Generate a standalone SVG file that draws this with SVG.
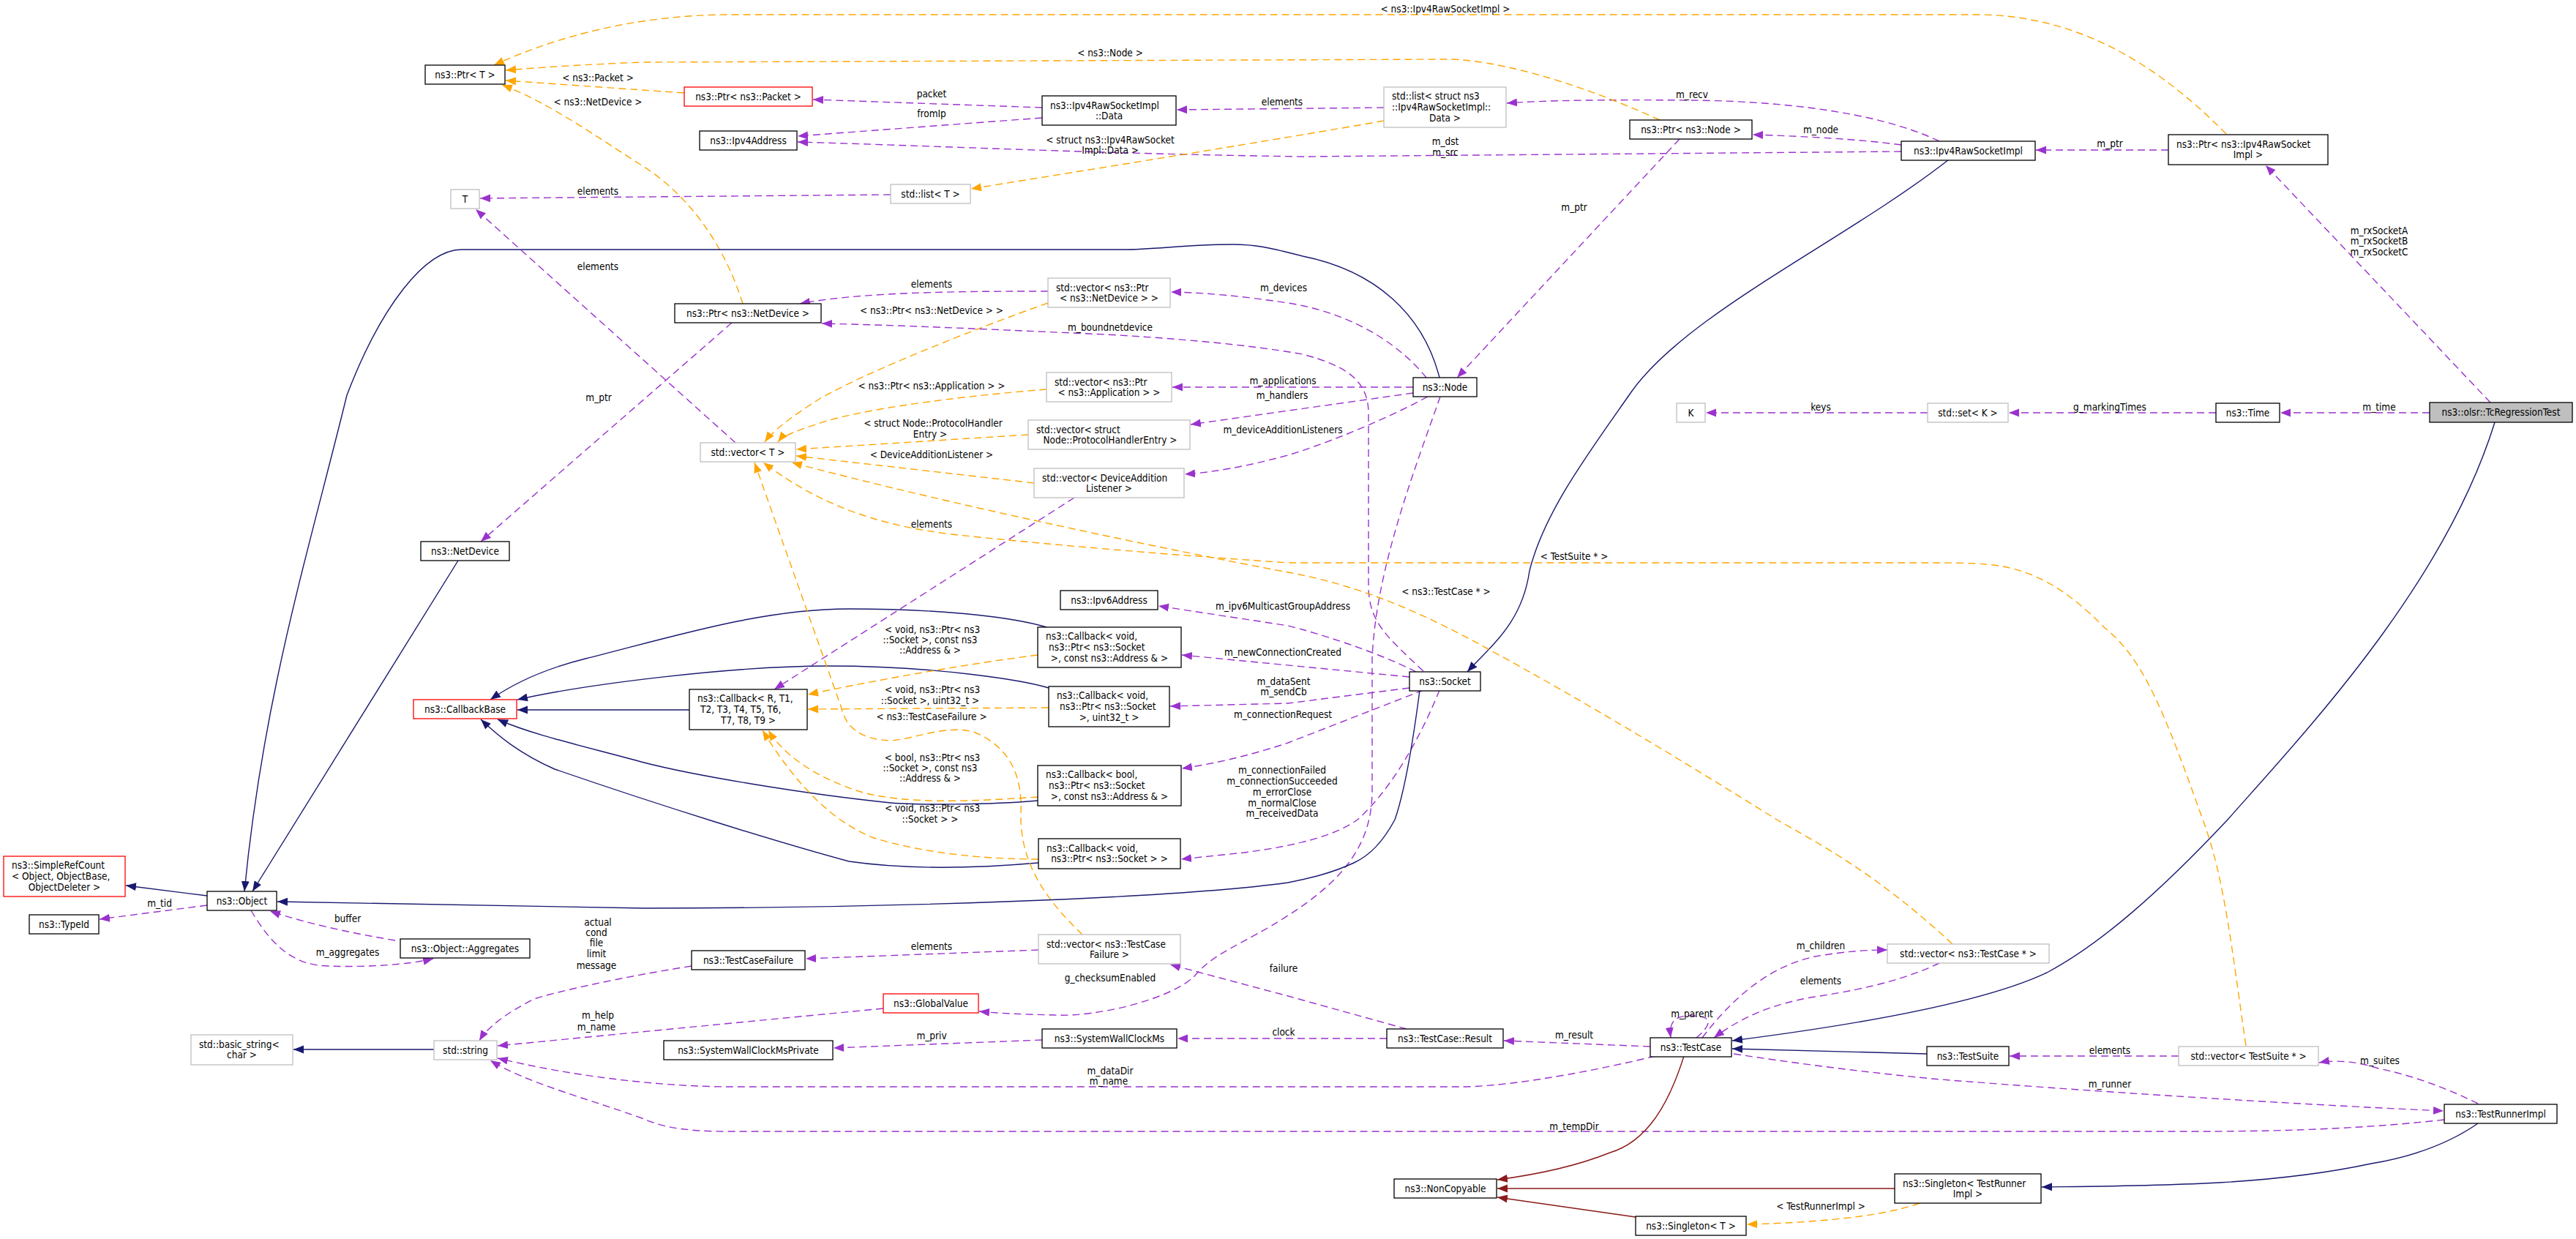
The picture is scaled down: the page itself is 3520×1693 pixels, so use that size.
<svg xmlns="http://www.w3.org/2000/svg" width="3520" height="1693" viewBox="0 0 3520 1693">
<style>
text{font-family:"DejaVu Sans Condensed","DejaVu Sans",sans-serif;font-stretch:condensed;font-size:13.5px;fill:#000}
.l{text-anchor:middle}
.c{text-anchor:middle}
.s{text-anchor:start}
.n rect{fill:#fff;stroke:#000;stroke-width:1.3}
.g rect{fill:#fff;stroke:#bfbfbf;stroke-width:1.3}
.r rect{fill:#fff;stroke:#ff0000;stroke-width:1.3}
.h rect{fill:#bfbfbf;stroke:#000;stroke-width:1.3}
#connectors path{fill:none;stroke-width:1.4}
.inh{stroke:#191970;marker-end:url(#aN)}
.use{stroke:#9a32cd;stroke-dasharray:10,6;marker-end:url(#aP)}
.tpl{stroke:#ffa500;stroke-dasharray:10,6;marker-end:url(#aO)}
.pri{stroke:#8b1a1a;marker-end:url(#aR)}
</style>
<defs>
<marker id="aN" markerUnits="userSpaceOnUse" markerWidth="15" markerHeight="12" viewBox="0 0 15 12" refX="14" refY="6" orient="auto"><path d="M0,0.5 L14,6 L0,11.5 z" fill="#191970" stroke="none"/></marker>
<marker id="aP" markerUnits="userSpaceOnUse" markerWidth="15" markerHeight="12" viewBox="0 0 15 12" refX="14" refY="6" orient="auto"><path d="M0,0.5 L14,6 L0,11.5 z" fill="#9a32cd" stroke="none"/></marker>
<marker id="aO" markerUnits="userSpaceOnUse" markerWidth="15" markerHeight="12" viewBox="0 0 15 12" refX="14" refY="6" orient="auto"><path d="M0,0.5 L14,6 L0,11.5 z" fill="#ffa500" stroke="none"/></marker>
<marker id="aR" markerUnits="userSpaceOnUse" markerWidth="15" markerHeight="12" viewBox="0 0 15 12" refX="14" refY="6" orient="auto"><path d="M0,0.5 L14,6 L0,11.5 z" fill="#8b1a1a" stroke="none"/></marker>
</defs>
<rect x="0" y="0" width="3520" height="1693" fill="#fff"/>
<g id="connectors">
<path class="use" d="M3320,564 L3116,564"/>
<path class="use" d="M3403,550 L3096,226"/>
<path class="inh" d="M3409,577 C3340,800 3150,1000 3044,1120 C2950,1220 2870,1290 2797,1329 C2700,1375 2500,1405 2367,1422"/>
<path class="use" d="M3028,564 L2745,564"/>
<path class="use" d="M2634,564 L2331,564"/>
<path class="use" d="M2963,205 L2782,205"/>
<path class="tpl" d="M3042,183 C2960,100 2850,20 2700,20 L1000,20 C870,20 760,50 675,89"/>
<path class="inh" d="M2663,218 C2520,330 2300,430 2226,540 C2170,620 2110,700 2090,780 C2080,850 2040,880 2005,918"/>
<path class="use" d="M2598,198 C2540,190 2460,186 2395,184"/>
<path class="use" d="M2650,193 C2560,150 2420,138 2311,137 C2200,136 2110,137 2059,141"/>
<path class="use" d="M2598,207 L1780,214 C1500,210 1300,200 1090,194"/>
<path class="use" d="M2295,190 L1991,516"/>
<path class="tpl" d="M2268,164 C2150,110 2040,81 1978,81 L880,85 C800,88 740,92 691,96"/>
<path class="use" d="M1891,147 L1608,150"/>
<path class="tpl" d="M1891,165 C1750,190 1500,230 1327,258"/>
<path class="use" d="M1217,266 L656,271"/>
<path class="use" d="M1424,147 L1111,136"/>
<path class="use" d="M1424,161 L1090,186"/>
<path class="tpl" d="M935,127 L691,110"/>
<path class="tpl" d="M1015,415 C985,320 930,260 880,228 C820,190 750,140 686,116"/>
<path class="use" d="M1000,441 L657,740"/>
<path class="inh" d="M626,766 L345,1218"/>
<path class="inh" d="M1967,516 C1945,430 1880,370 1780,350 C1740,340 1720,334 1684,334 C1620,334 1580,341 1534,341 L631,341 C580,341 520,420 474,540 C420,760 360,950 334,1218"/>
<path class="use" d="M1949,516 C1920,480 1860,430 1760,414 C1700,405 1650,400 1600,399"/>
<path class="use" d="M1931,529 L1602,529"/>
<path class="use" d="M1931,537 L1627,580"/>
<path class="use" d="M1951,542 C1880,580 1800,610 1760,622 C1700,638 1660,645 1619,648"/>
<path class="use" d="M1432,398 C1330,398 1180,398 1093,415"/>
<path class="tpl" d="M1432,414 C1330,450 1180,510 1120,545 C1080,570 1055,590 1045,604"/>
<path class="tpl" d="M1430,532 C1330,540 1200,555 1130,575 C1090,588 1070,595 1063,604"/>
<path class="tpl" d="M1405,594 L1088,614"/>
<path class="tpl" d="M1413,660 L1088,623"/>
<path class="use" d="M1468,680 L1058,942"/>
<path class="use" d="M1005,605 L650,286"/>
<path class="use" d="M1945,917 C1895,870 1870,850 1870,800 L1870,565 C1870,520 1840,500 1780,484 C1700,470 1600,462 1511,457 C1350,450 1250,445 1123,442"/>
<path class="use" d="M1935,918 C1880,890 1800,865 1760,855 L1583,828"/>
<path class="use" d="M1926,925 L1615,895"/>
<path class="use" d="M1926,940 L1760,961 L1599,965"/>
<path class="use" d="M1945,943 L1760,1015 C1700,1035 1650,1045 1615,1050"/>
<path class="use" d="M1967,943 C1940,1010 1900,1080 1855,1120 C1820,1145 1760,1157 1700,1165 L1614,1174"/>
<path class="use" d="M1968,542 C1930,650 1880,780 1875,900 L1875,1080 C1875,1150 1840,1200 1760,1251 C1700,1290 1660,1300 1632,1334 C1600,1365 1500,1390 1441,1387 C1400,1386 1370,1385 1338,1382"/>
<path class="inh" d="M1430,857 C1390,845 1300,832 1160,832 C1040,832 920,870 800,900 C740,915 700,935 670,956"/>
<path class="inh" d="M1433,940 C1400,930 1280,910 1132,910 C1000,910 800,935 707,956"/>
<path class="inh" d="M942,970 L707,970"/>
<path class="inh" d="M1418,1094 C1350,1100 1250,1100 1217,1097 C1100,1085 950,1060 880,1042 C800,1020 730,1005 680,983"/>
<path class="inh" d="M1419,1179 C1350,1185 1250,1190 1160,1177 C1060,1150 900,1100 758,1051 C710,1030 680,1005 657,983"/>
<path class="tpl" d="M1418,895 C1300,910 1170,935 1104,949"/>
<path class="tpl" d="M1433,967 L1104,969"/>
<path class="tpl" d="M1418,1089 C1330,1095 1230,1100 1170,1080 C1110,1060 1070,1030 1050,998"/>
<path class="tpl" d="M1419,1174 C1340,1174 1260,1165 1194,1145 C1130,1120 1080,1060 1042,998"/>
<path class="tpl" d="M1479,1277 C1430,1230 1393,1180 1395,1110 C1397,1060 1380,1020 1330,1000 C1290,990 1250,1010 1217,1012 C1170,1010 1155,990 1149,965 L1031,632"/>
<path class="inh" d="M1940,943 C1930,1020 1920,1080 1906,1120 C1890,1150 1870,1170 1850,1179 C1820,1193 1790,1200 1760,1206 C1600,1228 1200,1241 880,1241 L379,1232"/>
<path class="inh" d="M283,1224 L172,1210"/>
<path class="use" d="M283,1237 L136,1256"/>
<path class="use" d="M343,1244 C370,1290 400,1320 450,1320 C500,1322 560,1318 592,1310"/>
<path class="use" d="M540,1285 C480,1275 420,1262 369,1245"/>
<path class="use" d="M945,1320 C850,1335 760,1355 730,1365 C690,1385 665,1405 655,1422"/>
<path class="use" d="M1207,1378 L680,1429"/>
<path class="use" d="M2262,1443 C2150,1470 2050,1485 1997,1485 L1000,1485 C900,1485 780,1470 680,1446"/>
<path class="use" d="M3340,1530 C3250,1540 3150,1546 3000,1546 L992,1546 C930,1546 900,1538 880,1529 C800,1500 720,1480 670,1449"/>
<path class="inh" d="M593,1434 L401,1434"/>
<path class="use" d="M1424,1421 L1139,1432"/>
<path class="use" d="M1895,1419 L1609,1419"/>
<path class="use" d="M1922,1406 L1760,1361 L1599,1318"/>
<path class="use" d="M1419,1298 L1101,1310"/>
<path class="use" d="M2255,1430 L2055,1422"/>
<path class="use" d="M2318,1418 C2345,1395 2335,1388 2310,1388 C2290,1388 2280,1395 2283,1418"/>
<path class="use" d="M2326,1418 C2370,1360 2420,1320 2480,1307 C2520,1300 2550,1298 2579,1298"/>
<path class="use" d="M2650,1316 C2610,1335 2560,1350 2480,1362 C2420,1372 2380,1390 2342,1418"/>
<path class="tpl" d="M2668,1290 C2560,1190 2480,1150 2428,1120 C2300,1040 2150,950 2041,891 C1950,840 1860,800 1760,782 C1600,752 1300,690 1082,632"/>
<path class="tpl" d="M3069,1429 C3050,1300 3040,1200 3010,1120 C2960,980 2930,900 2876,858 C2820,800 2770,775 2713,771 C2690,769 2660,769 2640,769 L1760,769 C1600,758 1450,746 1300,730 C1200,718 1120,690 1043,632"/>
<path class="pri" d="M2301,1443 C2280,1510 2250,1560 2200,1575 C2150,1595 2100,1605 2046,1612"/>
<path class="pri" d="M2589,1624 L2046,1624"/>
<path class="pri" d="M2235,1663 L2046,1636"/>
<path class="tpl" d="M2623,1644 C2580,1660 2500,1670 2387,1673"/>
<path class="inh" d="M3386,1535 C3350,1560 3300,1580 3240,1590 C3100,1620 2950,1620 2790,1622"/>
<path class="inh" d="M2633,1440 L2367,1433"/>
<path class="use" d="M2977,1443 L2746,1443"/>
<path class="use" d="M3386,1508 C3350,1490 3300,1470 3250,1460 C3220,1450 3190,1448 3169,1452"/>
<path class="use" d="M2369,1440 C2500,1460 2600,1470 2640,1474 C2900,1495 3200,1512 3339,1518"/>
<g id="edge-labels">
<text class="l" x="1975" y="17">&lt; ns3::Ipv4RawSocketImpl &gt;</text>
<text class="l" x="1517" y="77">&lt; ns3::Node &gt;</text>
<text class="l" x="817" y="111">&lt; ns3::Packet &gt;</text>
<text class="l" x="817" y="144">&lt; ns3::NetDevice &gt;</text>
<text class="l" x="1273" y="133">packet</text>
<text class="l" x="1273" y="160">fromIp</text>
<text class="l" x="1752" y="144">elements</text>
<text class="l" x="1517" y="196">&lt; struct ns3::Ipv4RawSocket</text>
<text class="l" x="1517" y="210">Impl::Data &gt;</text>
<text class="l" x="2312" y="134">m_recv</text>
<text class="l" x="2488" y="182">m_node</text>
<text class="l" x="1975" y="198">m_dst</text>
<text class="l" x="1975" y="213">m_src</text>
<text class="l" x="2883" y="201">m_ptr</text>
<text class="l" x="817" y="266">elements</text>
<text class="l" x="2151" y="288">m_ptr</text>
<text class="l" x="3251" y="320">m_rxSocketA</text>
<text class="l" x="3251" y="334">m_rxSocketB</text>
<text class="l" x="3251" y="349">m_rxSocketC</text>
<text class="l" x="817" y="369">elements</text>
<text class="l" x="1273" y="393">elements</text>
<text class="l" x="1754" y="398">m_devices</text>
<text class="l" x="1273" y="429">&lt; ns3::Ptr&lt; ns3::NetDevice &gt; &gt;</text>
<text class="l" x="1517" y="452">m_boundnetdevice</text>
<text class="l" x="1753" y="525">m_applications</text>
<text class="l" x="1273" y="532">&lt; ns3::Ptr&lt; ns3::Application &gt; &gt;</text>
<text class="l" x="1752" y="545">m_handlers</text>
<text class="l" x="818" y="548">m_ptr</text>
<text class="l" x="2488" y="561">keys</text>
<text class="l" x="2883" y="561">g_markingTimes</text>
<text class="l" x="3251" y="561">m_time</text>
<text class="l" x="1275" y="583">&lt; struct Node::ProtocolHandler</text>
<text class="l" x="1271" y="598">Entry &gt;</text>
<text class="l" x="1753" y="592">m_deviceAdditionListeners</text>
<text class="l" x="1273" y="626">&lt; DeviceAdditionListener &gt;</text>
<text class="l" x="1273" y="721">elements</text>
<text class="l" x="2151" y="765">&lt; TestSuite * &gt;</text>
<text class="l" x="1976" y="813">&lt; ns3::TestCase * &gt;</text>
<text class="l" x="1753" y="833">m_ipv6MulticastGroupAddress</text>
<text class="l" x="1274" y="865">&lt; void, ns3::Ptr&lt; ns3</text>
<text class="l" x="1271" y="879">::Socket &gt;, const ns3</text>
<text class="l" x="1271" y="893">::Address &amp; &gt;</text>
<text class="l" x="1753" y="896">m_newConnectionCreated</text>
<text class="l" x="1754" y="936">m_dataSent</text>
<text class="l" x="1754" y="950">m_sendCb</text>
<text class="l" x="1274" y="947">&lt; void, ns3::Ptr&lt; ns3</text>
<text class="l" x="1271" y="962">::Socket &gt;, uint32_t &gt;</text>
<text class="l" x="1753" y="981">m_connectionRequest</text>
<text class="l" x="1273" y="984">&lt; ns3::TestCaseFailure &gt;</text>
<text class="l" x="1274" y="1040">&lt; bool, ns3::Ptr&lt; ns3</text>
<text class="l" x="1271" y="1054">::Socket &gt;, const ns3</text>
<text class="l" x="1271" y="1068">::Address &amp; &gt;</text>
<text class="l" x="1752" y="1057">m_connectionFailed</text>
<text class="l" x="1752" y="1072">m_connectionSucceeded</text>
<text class="l" x="1752" y="1087">m_errorClose</text>
<text class="l" x="1752" y="1102">m_normalClose</text>
<text class="l" x="1752" y="1116">m_receivedData</text>
<text class="l" x="1274" y="1109">&lt; void, ns3::Ptr&lt; ns3</text>
<text class="l" x="1271" y="1124">::Socket &gt; &gt;</text>
<text class="l" x="218" y="1239">m_tid</text>
<text class="l" x="475" y="1260">buffer</text>
<text class="l" x="475" y="1306">m_aggregates</text>
<text class="l" x="817" y="1265">actual</text>
<text class="l" x="815" y="1279">cond</text>
<text class="l" x="815" y="1293">file</text>
<text class="l" x="815" y="1308">limit</text>
<text class="l" x="815" y="1324">message</text>
<text class="l" x="1273" y="1298">elements</text>
<text class="l" x="2488" y="1297">m_children</text>
<text class="l" x="1754" y="1328">failure</text>
<text class="l" x="1517" y="1341">g_checksumEnabled</text>
<text class="l" x="2488" y="1345">elements</text>
<text class="l" x="2312" y="1390">m_parent</text>
<text class="l" x="817" y="1392">m_help</text>
<text class="l" x="815" y="1408">m_name</text>
<text class="l" x="1754" y="1415">clock</text>
<text class="l" x="2151" y="1419">m_result</text>
<text class="l" x="1273" y="1420">m_priv</text>
<text class="l" x="2883" y="1440">elements</text>
<text class="l" x="3252" y="1454">m_suites</text>
<text class="l" x="1517" y="1468">m_dataDir</text>
<text class="l" x="1515" y="1482">m_name</text>
<text class="l" x="2883" y="1486">m_runner</text>
<text class="l" x="2151" y="1544">m_tempDir</text>
<text class="l" x="2488" y="1653">&lt; TestRunnerImpl &gt;</text>
</g>
</g>
<g id="nodes">
<g id="node-ptrT" class="n"><rect x="581" y="89" width="109" height="26"/><text class="c" x="635.5" y="106.5">ns3::Ptr&lt; T &gt;</text></g>
<g id="node-T" class="g"><rect x="616" y="259" width="39" height="26"/><text class="c" x="635.5" y="276.5">T</text></g>
<g id="node-ptrPacket" class="r"><rect x="935" y="119" width="175" height="26"/><text class="c" x="1022.5" y="136.5">ns3::Ptr&lt; ns3::Packet &gt;</text></g>
<g id="node-ipv4Address" class="n"><rect x="956" y="179" width="133" height="26"/><text class="c" x="1022.5" y="196.5">ns3::Ipv4Address</text></g>
<g id="node-data" class="n"><rect x="1424" y="131" width="183" height="40"/><text class="s" x="1435" y="148.5">ns3::Ipv4RawSocketImpl</text><text class="c" x="1515.5" y="163">::Data</text></g>
<g id="node-listT" class="g"><rect x="1217" y="252" width="109" height="26"/><text class="c" x="1271.5" y="269.5">std::list&lt; T &gt;</text></g>
<g id="node-listData" class="g"><rect x="1891" y="119" width="167" height="55"/><text class="s" x="1902" y="136">std::list&lt; struct ns3</text><text class="s" x="1902" y="151">::Ipv4RawSocketImpl::</text><text class="c" x="1974.5" y="165.5">Data &gt;</text></g>
<g id="node-ptrNode" class="n"><rect x="2227" y="164" width="167" height="26"/><text class="c" x="2310.5" y="181.5">ns3::Ptr&lt; ns3::Node &gt;</text></g>
<g id="node-rawSocket" class="n"><rect x="2598" y="193" width="183" height="26"/><text class="c" x="2689.5" y="210.5">ns3::Ipv4RawSocketImpl</text></g>
<g id="node-ptrRawSocket" class="n"><rect x="2963" y="184" width="218" height="41"/><text class="s" x="2974" y="201.5">ns3::Ptr&lt; ns3::Ipv4RawSocket</text><text class="c" x="3072" y="216">Impl &gt;</text></g>
<g id="node-K" class="g"><rect x="2291" y="551" width="39" height="26"/><text class="c" x="2310.5" y="568.5">K</text></g>
<g id="node-setK" class="g"><rect x="2634" y="551" width="110" height="26"/><text class="c" x="2689" y="568.5">std::set&lt; K &gt;</text></g>
<g id="node-time" class="n"><rect x="3028" y="551" width="87" height="26"/><text class="c" x="3071.5" y="568.5">ns3::Time</text></g>
<g id="node-tcRegressionTest" class="h"><rect x="3320" y="550" width="195" height="27"/><text class="c" x="3417.5" y="568">ns3::olsr::TcRegressionTest</text></g>
<g id="node-vecNetDevice" class="g"><rect x="1432" y="380" width="167" height="40"/><text class="s" x="1443" y="397.5">std::vector&lt; ns3::Ptr</text><text class="c" x="1515.5" y="412">&lt; ns3::NetDevice &gt; &gt;</text></g>
<g id="node-ptrNetDevice" class="n"><rect x="922" y="415" width="200" height="26"/><text class="c" x="1022" y="432.5">ns3::Ptr&lt; ns3::NetDevice &gt;</text></g>
<g id="node-vecApplication" class="g"><rect x="1430" y="509" width="171" height="40"/><text class="s" x="1441" y="526.5">std::vector&lt; ns3::Ptr</text><text class="c" x="1515.5" y="541">&lt; ns3::Application &gt; &gt;</text></g>
<g id="node-node" class="n"><rect x="1931" y="516" width="87" height="26"/><text class="c" x="1974.5" y="533.5">ns3::Node</text></g>
<g id="node-vecT" class="g"><rect x="957" y="605" width="130" height="26"/><text class="c" x="1022" y="622.5">std::vector&lt; T &gt;</text></g>
<g id="node-vecProtocolHandler" class="g"><rect x="1405" y="574" width="221" height="40"/><text class="s" x="1416" y="591.5">std::vector&lt; struct</text><text class="c" x="1517" y="606">Node::ProtocolHandlerEntry &gt;</text></g>
<g id="node-vecDeviceAddition" class="g"><rect x="1413" y="640" width="205" height="40"/><text class="s" x="1424" y="657.5">std::vector&lt; DeviceAddition</text><text class="c" x="1515.5" y="672">Listener &gt;</text></g>
<g id="node-netDevice" class="n"><rect x="575" y="740" width="121" height="26"/><text class="c" x="635.5" y="757.5">ns3::NetDevice</text></g>
<g id="node-ipv6Address" class="n"><rect x="1449" y="807" width="133" height="26"/><text class="c" x="1515.5" y="824.5">ns3::Ipv6Address</text></g>
<g id="node-cbAddress" class="n"><rect x="1418" y="857" width="196" height="55"/><text class="s" x="1429" y="874">ns3::Callback&lt; void,</text><text class="s" x="1433" y="889">ns3::Ptr&lt; ns3::Socket</text><text class="c" x="1516" y="903.5">&gt;, const ns3::Address &amp; &gt;</text></g>
<g id="node-cbUint32" class="n"><rect x="1433" y="938" width="165" height="55"/><text class="s" x="1444" y="955">ns3::Callback&lt; void,</text><text class="s" x="1448" y="970">ns3::Ptr&lt; ns3::Socket</text><text class="c" x="1515.5" y="984.5">&gt;, uint32_t &gt;</text></g>
<g id="node-cbGeneric" class="n"><rect x="942" y="942" width="161" height="55"/><text class="s" x="953" y="959">ns3::Callback&lt; R, T1,</text><text class="s" x="957" y="974">T2, T3, T4, T5, T6,</text><text class="c" x="1022.5" y="988.5">T7, T8, T9 &gt;</text></g>
<g id="node-callbackBase" class="r"><rect x="565" y="956" width="141" height="26"/><text class="c" x="635.5" y="973.5">ns3::CallbackBase</text></g>
<g id="node-socket" class="n"><rect x="1926" y="918" width="97" height="26"/><text class="c" x="1974.5" y="935.5">ns3::Socket</text></g>
<g id="node-cbBool" class="n"><rect x="1418" y="1046" width="196" height="55"/><text class="s" x="1429" y="1063">ns3::Callback&lt; bool,</text><text class="s" x="1433" y="1078">ns3::Ptr&lt; ns3::Socket</text><text class="c" x="1516" y="1092.5">&gt;, const ns3::Address &amp; &gt;</text></g>
<g id="node-cbVoid" class="n"><rect x="1419" y="1146" width="194" height="41"/><text class="s" x="1430" y="1163.5">ns3::Callback&lt; void,</text><text class="c" x="1516" y="1178">ns3::Ptr&lt; ns3::Socket &gt; &gt;</text></g>
<g id="node-simpleRefCount" class="r"><rect x="5" y="1170" width="166" height="55"/><text class="s" x="16" y="1187">ns3::SimpleRefCount</text><text class="s" x="16" y="1202">&lt; Object, ObjectBase,</text><text class="c" x="88" y="1216.5">ObjectDeleter &gt;</text></g>
<g id="node-object" class="n"><rect x="283" y="1218" width="95" height="26"/><text class="c" x="330.5" y="1235.5">ns3::Object</text></g>
<g id="node-typeId" class="n"><rect x="40" y="1250" width="95" height="26"/><text class="c" x="87.5" y="1267.5">ns3::TypeId</text></g>
<g id="node-aggregates" class="n"><rect x="547" y="1283" width="177" height="26"/><text class="c" x="635.5" y="1300.5">ns3::Object::Aggregates</text></g>
<g id="node-testCaseFailure" class="n"><rect x="945" y="1299" width="155" height="26"/><text class="c" x="1022.5" y="1316.5">ns3::TestCaseFailure</text></g>
<g id="node-vecTestCaseFailure" class="g"><rect x="1419" y="1277" width="194" height="40"/><text class="s" x="1430" y="1294.5">std::vector&lt; ns3::TestCase</text><text class="c" x="1516" y="1309">Failure &gt;</text></g>
<g id="node-globalValue" class="r"><rect x="1207" y="1358" width="130" height="26"/><text class="c" x="1272" y="1375.5">ns3::GlobalValue</text></g>
<g id="node-basicString" class="g"><rect x="261" y="1414" width="139" height="41"/><text class="s" x="272" y="1431.5">std::basic_string&lt;</text><text class="c" x="330.5" y="1446">char &gt;</text></g>
<g id="node-string" class="g"><rect x="593" y="1422" width="86" height="26"/><text class="c" x="636" y="1439.5">std::string</text></g>
<g id="node-wallClockPrivate" class="n"><rect x="907" y="1422" width="231" height="26"/><text class="c" x="1022.5" y="1439.5">ns3::SystemWallClockMsPrivate</text></g>
<g id="node-wallClock" class="n"><rect x="1424" y="1406" width="184" height="26"/><text class="c" x="1516" y="1423.5">ns3::SystemWallClockMs</text></g>
<g id="node-result" class="n"><rect x="1895" y="1406" width="159" height="26"/><text class="c" x="1974.5" y="1423.5">ns3::TestCase::Result</text></g>
<g id="node-testCase" class="n"><rect x="2255" y="1418" width="111" height="26"/><text class="c" x="2310.5" y="1435.5">ns3::TestCase</text></g>
<g id="node-vecTestCase" class="g"><rect x="2579" y="1290" width="221" height="26"/><text class="c" x="2689.5" y="1307.5">std::vector&lt; ns3::TestCase * &gt;</text></g>
<g id="node-testSuite" class="n"><rect x="2633" y="1430" width="112" height="26"/><text class="c" x="2689" y="1447.5">ns3::TestSuite</text></g>
<g id="node-vecTestSuite" class="g"><rect x="2977" y="1430" width="191" height="26"/><text class="c" x="3072.5" y="1447.5">std::vector&lt; TestSuite * &gt;</text></g>
<g id="node-testRunnerImpl" class="n"><rect x="3340" y="1509" width="154" height="26"/><text class="c" x="3417" y="1526.5">ns3::TestRunnerImpl</text></g>
<g id="node-nonCopyable" class="n"><rect x="1905" y="1611" width="140" height="26"/><text class="c" x="1975" y="1628.5">ns3::NonCopyable</text></g>
<g id="node-singletonRunner" class="n"><rect x="2589" y="1604" width="200" height="40"/><text class="s" x="2600" y="1621.5">ns3::Singleton&lt; TestRunner</text><text class="c" x="2689" y="1636">Impl &gt;</text></g>
<g id="node-singletonT" class="n"><rect x="2235" y="1662" width="151" height="26"/><text class="c" x="2310.5" y="1679.5">ns3::Singleton&lt; T &gt;</text></g>
</g>
</svg>
